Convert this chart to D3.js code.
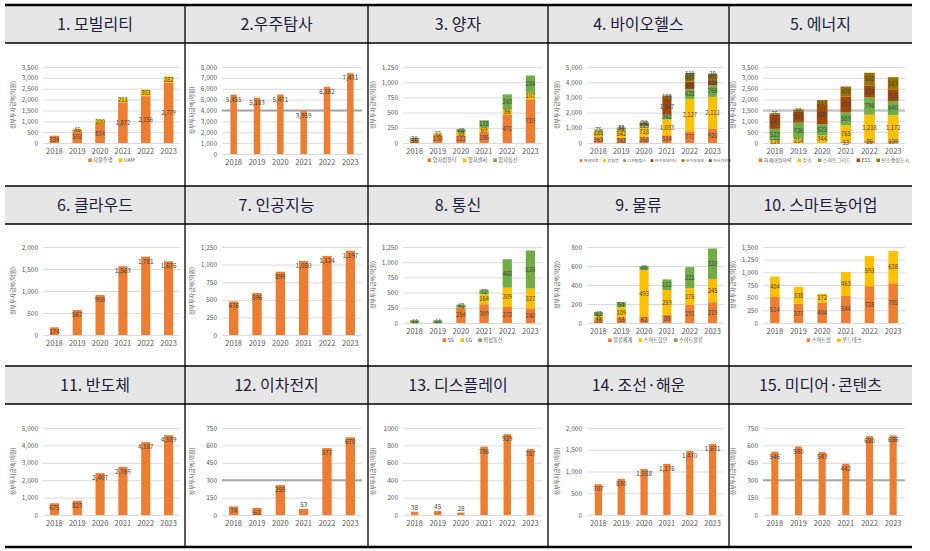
<!DOCTYPE html>
<html><head><meta charset="utf-8">
<script src="https://cdn.jsdelivr.net/npm/d3@7"></script>
<style>
body{margin:0;background:#fff}
svg{display:block}
text{font-family:"Noto Sans CJK KR","Noto Sans",sans-serif}
</style>
</head><body>
<svg id="c" width="930" height="551"></svg>
<script>
const years = ["2018","2019","2020","2021","2022","2023"];
const yTitle = "정부투자금액(억원)";
const titles = ["1. 모빌리티","2.우주탐사","3. 양자","4. 바이오헬스","5. 에너지",
  "6. 클라우드","7. 인공지능","8. 통신","9. 물류","10. 스마트농어업",
  "11. 반도체","12. 이차전지","13. 디스플레이","14. 조선·해운","15. 미디어·콘텐츠"];

// 1. 모빌리티
const mobilitySeries = ["자율주행","UAM"];
const mobilityValues = [[334,592,874,1872,2156,2779],[0,46,200,211,303,282]];
// 2. 우주탐사
const spaceValues = [[5455,5183,5471,3959,6182,7431]];
// 3. 양자
const quantumSeries = ["양자컴퓨터","양자센서","양자통신"];
const quantumValues = [[56,130,122,186,471,719],[0,32,58,69,86,107],[30,0,48,118,243,284]];
// 4. 바이오헬스
const bioSeries = ["재생의료","감염병","디지털헬스","바이오데이터","바이오제조","의사과학자"];
const bioValues = [[363,343,358,514,771,920],[444,542,718,1033,2127,2112],[75,86,123,342,628,766],
  [0,0,105,1047,500,325],[0,38,34,188,469,400],[0,0,0,0,110,38]];
// 5. 에너지
const energySeries = ["차세대원자력","수소","스마트그리드","ESS","탄소중립도시"];
const energyValues = [[0,0,0,53,86,109],[128,214,344,765,1218,1172],[523,726,523,589,794,640],
  [647,512,881,727,555,525],[75,88,217,470,582,587]];
// 6. 클라우드
const cloudValues = [[174,567,908,1563,1781,1676]];
// 7. 인공지능
const aiValues = [[476,596,899,1050,1124,1197]];
// 8. 통신
const commSeries = ["5G","6G","위성통신"];
const commValues = [[0,0,254,309,272,240],[0,0,0,164,309,327],[44,44,48,72,468,626]];
// 9. 물류
const logiSeries = ["물류체계","스마트항만","스마트물류"];
const logiValues = [[38,58,62,88,191,219],[35,109,493,259,175,245],[43,54,46,112,222,320]];
// 10. 스마트농어업
const agriSeries = ["스마트팜","푸드테크"];
const agriValues = [[514,377,404,544,728,785],[404,338,172,463,593,638]];
// 11~15
const semiValues = [[675,823,2407,2769,4187,4589]];
const batteryValues = [[74,62,259,53,577,670]];
const displayValues = [[38,45,28,786,929,757]];
const shipValues = [[707,830,1058,1176,1470,1631]];
const mediaValues = [[546,590,543,442,680,686]];

// y-axis tick settings [max, step]
const yTicks = [[3500,500],[8000,1000],[1250,250],[5000,1000],[3500,500],
  [2000,500],[1250,250],[1250,250],[800,200],[1500,250],
  [5000,1000],[750,150],[1000,200],[2000,500],[750,150]];

const palette = ["#ED7D31","#FFC000","#70AD47","#9E480E","#997300","#43682B"];

const panels = [
  {s:mobilitySeries,v:mobilityValues,bw:0.42},
  {s:null,v:spaceValues,bw:0.28,ref:4000},
  {s:quantumSeries,v:quantumValues,bw:0.4},
  {s:bioSeries,v:bioValues,bw:0.4},
  {s:energySeries,v:energyValues,bw:0.45,ref:1500,refLight:true},
  {s:null,v:cloudValues,bw:0.4},
  {s:null,v:aiValues,bw:0.4},
  {s:commSeries,v:commValues,bw:0.4},
  {s:logiSeries,v:logiValues,bw:0.4},
  {s:agriSeries,v:agriValues,bw:0.4},
  {s:null,v:semiValues,bw:0.4},
  {s:null,v:batteryValues,bw:0.4,ref:300},
  {s:null,v:displayValues,bw:0.32,plain:true},
  {s:null,v:shipValues,bw:0.32},
  {s:null,v:mediaValues,bw:0.3,ref:300}
];

const svg = d3.select("#c");
const colX = [5,185,368,548,729,912];
const rowTop = [5,186,366];
const hdrBot = [43,224,404];
const gridX = [[43,180],[222,362],[403,542],[587,724],[763,905]];
const plotTop = [67,247,428];
const plotBotLegend = [143,323,505];
const plotBotNo = [154,335,515];

// headers
for (let r=0;r<3;r++){
  svg.append("rect").attr("x",colX[0]).attr("y",rowTop[r]).attr("width",colX[5]-colX[0])
    .attr("height",hdrBot[r]-rowTop[r]).attr("fill","#e7e6e6");
}

panels.forEach((p,i)=>{
  const r = Math.floor(i/5), c = i%5;
  const [x0,x1] = gridX[c];
  const top = plotTop[r];
  const bot = p.s ? plotBotLegend[r] : plotBotNo[r];
  const [ymax,ystep] = yTicks[i];
  const g = svg.append("g");
  // title
  svg.append("text").attr("x",(colX[c]+colX[c+1])/2).attr("y",(rowTop[r]+hdrBot[r])/2+6)
    .attr("text-anchor","middle").attr("font-size",16).attr("fill","#1c1c3c").text(titles[i]);
  const pi = 1-p.bw;
  const x = d3.scaleBand().domain(years).range([x0,x1]).paddingInner(pi).paddingOuter(pi/2);
  const y = d3.scaleLinear().domain([0,ymax]).range([bot,top]);
  const fmt = p.plain ? d3.format("d") : d3.format(",");
  const ya = d3.axisLeft(y).tickValues(d3.range(0,ymax+1,ystep)).tickSize(-(x1-x0)).tickPadding(5).tickFormat(fmt);
  const yg = g.append("g").attr("transform",`translate(${x0},0)`).call(ya);
  yg.select(".domain").remove();
  yg.selectAll("line").attr("stroke","#d9d9d9").attr("stroke-width",1);
  yg.selectAll("text").attr("font-size",6.5).attr("fill","#595959");
  if (p.ref!==undefined){
    g.append("line").attr("x1",x0).attr("x2",x1).attr("y1",y(p.ref)).attr("y2",y(p.ref))
      .attr("stroke",p.refLight?"#c8c8c8":"#a6a6a6").attr("stroke-width",p.refLight?2.5:2);
  }
  const xa = d3.axisBottom(x).tickSize(0).tickPadding(6);
  const xg = g.append("g").attr("transform",`translate(0,${bot})`).call(xa);
  xg.select(".domain").remove();
  xg.selectAll("text").attr("font-size",7.5).attr("fill","#595959");
  // y title
  g.append("text").attr("transform",`translate(${x0-28},${(top+bot)/2}) rotate(-90)`)
    .attr("text-anchor","middle").attr("font-size",6).attr("fill","#595959").text(yTitle);
  // bars
  const rows = years.map((yr,j)=>{const o={year:yr}; p.v.forEach((s,k)=>o[k]=s[j]); return o;});
  const keys = p.v.map((_,k)=>k);
  const stacked = d3.stack().keys(keys)(rows);
  stacked.forEach((layer,k)=>{
    g.append("g").selectAll("rect").data(layer).join("rect")
      .attr("x",d=>x(d.data.year)).attr("width",x.bandwidth())
      .attr("y",d=>y(d[1])).attr("height",d=>y(d[0])-y(d[1]))
      .attr("fill",palette[k]);
  });
  // labels
  const single = p.v.length===1;
  stacked.forEach((layer,k)=>{
    g.append("g").selectAll("text").data(layer.filter(d=>d[1]-d[0]>0)).join("text")
      .attr("x",d=>x(d.data.year)+x.bandwidth()/2)
      .attr("y",d=>{
        if (single){ const h=y(d[0])-y(d[1]); return h<7 ? y(d[1])-2 : y(d[1])+7; }
        return (y(d[0])+y(d[1]))/2+2.2;})
      .attr("text-anchor","middle").attr("font-size",single?6.3:5.8).attr("fill","#404040")
      .text(d=>d3.format(",")(d[1]-d[0]));
  });
  // legend
  if (p.s){
    const maxW = 150;
    let fs = 5.2;
    const build = (fs)=>{
      const lg = g.append("g");
      let cx = 0;
      const ms = fs*0.7, gap = fs*1.2;
      p.s.forEach((name,k)=>{
        const it = lg.append("g").attr("transform",`translate(${cx},0)`);
        it.append("rect").attr("x",0).attr("y",-ms).attr("width",ms).attr("height",ms).attr("fill",palette[k]);
        const t = it.append("text").attr("x",ms+1.5).attr("y",0.3).attr("font-size",fs).attr("fill","#595959").text(name);
        cx += ms+1.5 + t.node().getComputedTextLength() + gap;
      });
      return {lg, total: cx-gap};
    };
    let res = build(fs);
    if (res.total > maxW){ res.lg.remove(); fs = fs*maxW/res.total; res = build(fs); }
    res.lg.attr("transform",`translate(${(x0+x1)/2-res.total/2},${bot+19})`);
  }
});

// table lines
const L = (x1,y1,x2,y2,w)=>svg.append("line").attr("x1",x1).attr("y1",y1).attr("x2",x2).attr("y2",y2)
  .attr("stroke","#000").attr("stroke-width",w);
L(colX[0],5,colX[5],5,2.5);
L(colX[0],547,colX[5],547,2.5);
[43,186,224,366,404].forEach(yy=>L(colX[0],yy,colX[5],yy,1.3));
[185,368,548,729].forEach(xx=>L(xx,5,xx,547,1.3));
</script>
</body></html>
